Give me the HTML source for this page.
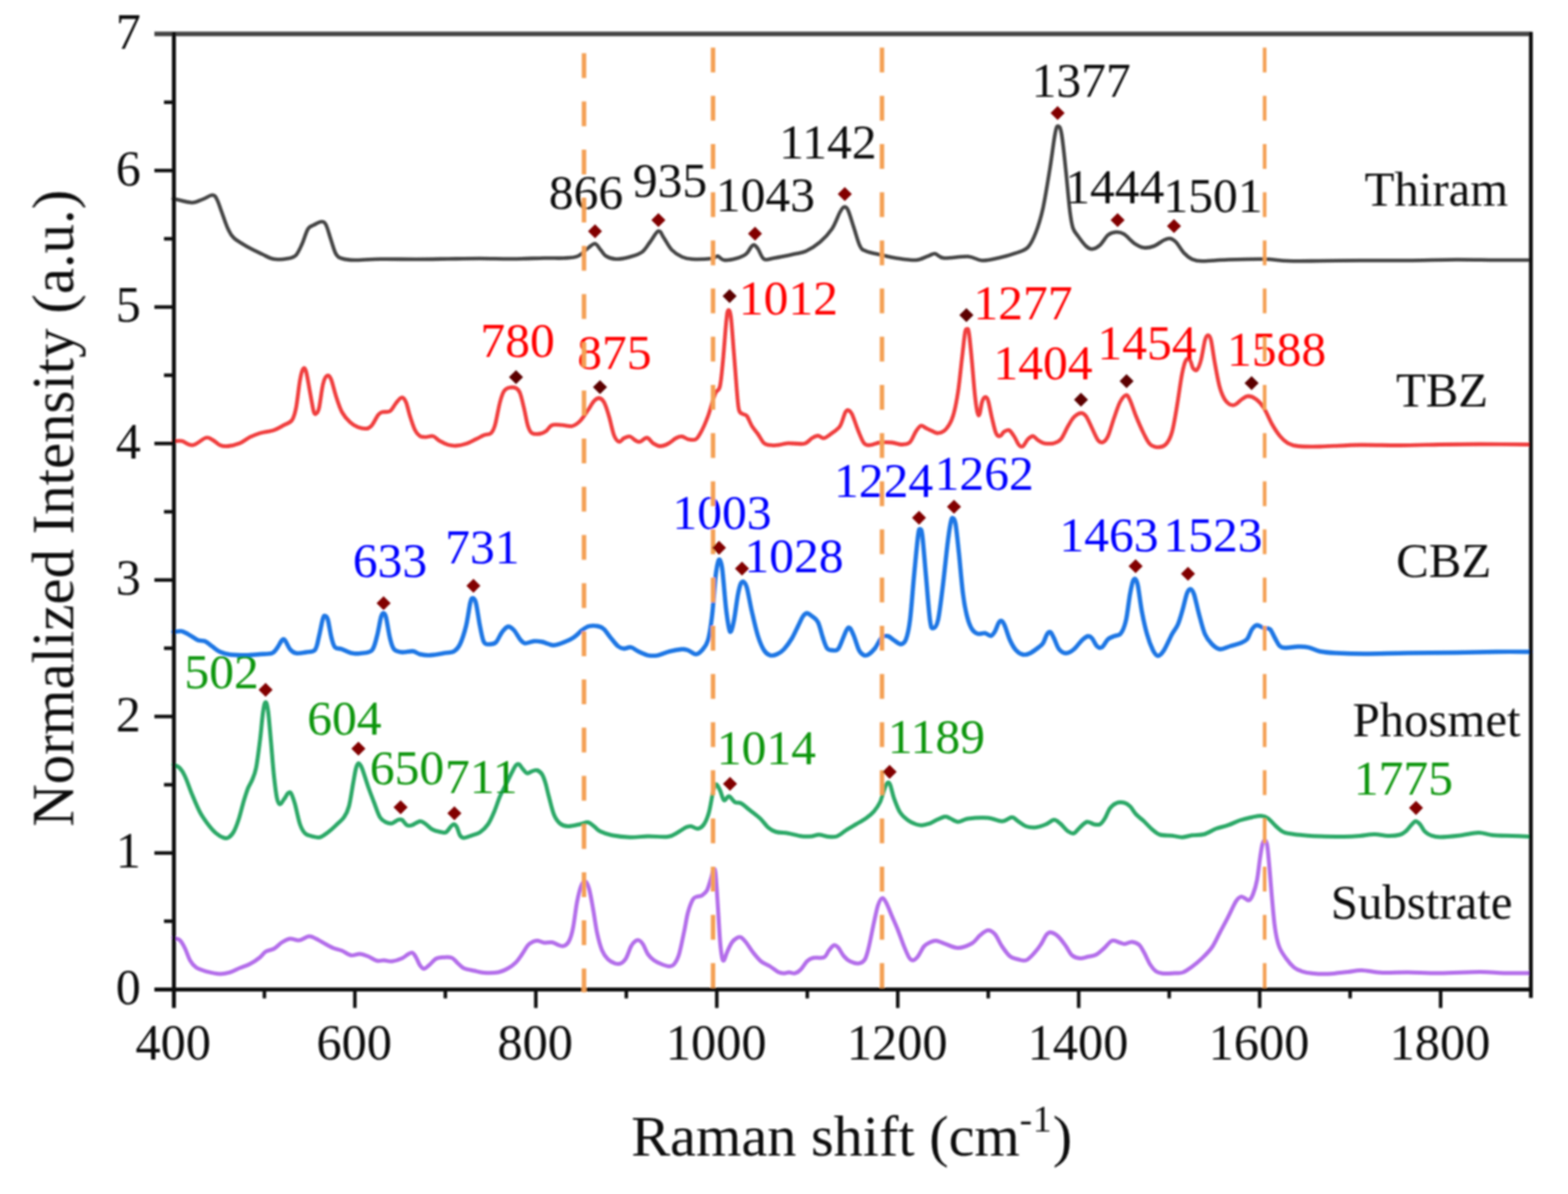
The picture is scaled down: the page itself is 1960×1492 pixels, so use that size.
<!DOCTYPE html>
<html lang="en"><head><meta charset="utf-8"><title>Raman spectra</title>
<style>
html,body{margin:0;padding:0;background:#fff;}
svg{display:block;}
text{font-family:"Liberation Serif",serif;}
</style></head>
<body>
<svg width="1960" height="1492" viewBox="0 0 1960 1492">
<rect width="1960" height="1492" fill="#ffffff"/>
<defs><filter id="soft" x="0" y="0" width="1960" height="1492" filterUnits="userSpaceOnUse"><feGaussianBlur stdDeviation="0.9"/></filter></defs>
<g filter="url(#soft)">
<g fill="none" stroke-linejoin="round" stroke-linecap="round">
<path d="M216.8,248.5C217.1,248.5 214.9,248.0 218.8,248.8C222.6,249.5 234.2,253.2 240.0,253.2C245.8,253.2 249.5,250.3 253.8,248.8C258.0,247.2 262.6,243.8 265.5,243.8C268.4,243.8 269.0,245.0 271.0,248.8C273.0,252.5 275.2,259.8 277.5,266.0C279.8,272.2 282.5,280.8 285.0,286.0C287.5,291.2 288.3,293.7 292.5,297.5C296.7,301.3 304.2,305.4 310.0,308.8C315.8,312.1 322.1,315.0 327.5,317.5C332.9,320.0 337.1,322.8 342.5,323.8C347.9,324.7 355.4,323.8 360.0,323.0C364.6,322.2 367.1,321.8 370.0,318.8C372.9,315.8 375.0,310.5 377.5,305.0C380.0,299.5 382.5,290.0 385.0,286.0C387.5,282.0 389.7,282.5 392.5,281.0C395.3,279.5 399.5,277.0 402.0,277.0C404.5,277.0 405.5,277.2 407.5,281.0C409.5,284.8 411.7,293.9 413.8,300.0C415.8,306.1 417.7,313.7 420.0,317.5C422.3,321.3 423.8,321.8 427.5,323.0C431.2,324.2 434.6,324.9 442.5,325.0C450.4,325.1 462.1,323.9 475.0,323.8C487.9,323.6 505.8,324.0 520.0,324.0C534.2,324.0 546.7,323.7 560.0,323.5C573.3,323.3 586.7,323.0 600.0,323.0C613.3,323.0 626.7,323.6 640.0,323.5C653.3,323.4 669.2,322.7 680.0,322.5C690.8,322.3 697.9,322.9 705.0,322.5C712.1,322.1 717.5,322.1 722.5,320.0C727.5,317.9 731.5,312.6 735.0,310.0C738.5,307.4 741.1,304.1 743.8,304.5C746.4,304.9 748.7,309.9 751.0,312.5C753.3,315.1 754.3,318.1 757.5,320.0C760.7,321.9 765.0,323.6 770.0,323.8C775.0,323.9 782.1,322.5 787.5,321.0C792.9,319.5 798.3,318.1 802.5,315.0C806.7,311.9 809.1,306.9 812.5,302.5C815.9,298.1 820.1,289.6 823.0,288.8C825.9,287.9 827.2,293.5 830.0,297.5C832.8,301.5 836.2,308.6 840.0,312.5C843.8,316.4 848.3,319.1 852.5,321.0C856.7,322.9 858.8,323.4 865.0,323.8C871.2,324.1 884.7,323.6 890.0,323.0C895.3,322.4 894.5,319.7 897.0,320.0C899.5,320.3 901.2,324.5 905.0,325.0C908.8,325.5 915.4,324.2 920.0,323.0C924.6,321.8 929.4,319.9 932.5,317.5C935.6,315.1 937.1,310.7 938.8,308.8C940.4,306.8 941.0,305.6 942.5,306.0C944.0,306.4 945.4,308.0 947.5,311.0C949.6,314.0 951.7,321.8 955.0,323.8C958.3,325.7 961.2,323.5 967.5,322.5C973.8,321.5 985.8,319.0 992.5,317.5C999.2,316.0 1002.1,316.2 1007.5,313.8C1012.9,311.2 1019.6,307.1 1025.0,302.5C1030.4,297.9 1035.8,292.2 1040.0,286.0C1044.2,279.8 1047.5,269.5 1050.0,265.0C1052.5,260.5 1053.3,259.2 1055.0,258.8C1056.7,258.3 1057.9,258.1 1060.0,262.5C1062.1,266.9 1065.0,277.5 1067.5,285.0C1070.0,292.5 1072.5,302.7 1075.0,307.5C1077.5,312.3 1077.9,311.9 1082.5,313.8C1087.1,315.6 1096.2,317.3 1102.5,318.8C1108.8,320.2 1112.9,321.5 1120.0,322.5C1127.1,323.5 1138.3,325.4 1145.0,325.0C1151.7,324.6 1156.0,321.3 1160.0,320.0C1164.0,318.7 1165.4,316.6 1168.8,317.0C1172.1,317.4 1173.1,321.9 1180.0,322.5C1186.9,323.1 1202.1,320.0 1210.0,320.5C1217.9,321.0 1221.2,325.2 1227.5,325.5C1233.8,325.8 1240.4,324.0 1247.5,322.5C1254.6,321.0 1263.8,318.5 1270.0,316.2C1276.2,314.0 1280.8,313.1 1285.0,308.8C1289.2,304.4 1291.9,298.1 1295.0,290.0C1298.1,281.9 1300.8,273.3 1303.8,260.0C1306.7,246.7 1310.0,225.4 1312.5,210.0C1315.0,194.6 1317.1,176.2 1318.8,167.5C1320.4,158.8 1321.1,157.5 1322.5,157.5C1323.9,157.5 1325.3,157.9 1327.0,167.5C1328.7,177.1 1330.8,198.8 1332.5,215.0C1334.2,231.2 1336.0,253.3 1337.5,265.0C1339.0,276.7 1339.6,280.0 1341.2,285.0C1342.9,290.0 1344.8,291.2 1347.5,295.0C1350.2,298.8 1354.6,304.8 1357.5,307.5C1360.4,310.2 1362.1,311.5 1365.0,311.2C1367.9,311.0 1371.7,309.2 1375.0,306.2C1378.3,303.3 1381.7,296.5 1385.0,293.8C1388.3,291.0 1391.7,290.2 1395.0,290.0C1398.3,289.8 1401.2,290.2 1405.0,292.5C1408.8,294.8 1413.3,300.9 1417.5,303.8C1421.7,306.6 1425.8,308.9 1430.0,309.5C1434.2,310.1 1438.3,309.1 1442.5,307.5C1446.7,305.9 1451.7,301.6 1455.0,300.0C1458.3,298.4 1460.0,297.6 1462.5,298.0C1465.0,298.4 1467.1,299.5 1470.0,302.5C1472.9,305.5 1476.7,312.7 1480.0,316.2C1483.3,319.8 1486.2,322.1 1490.0,323.8C1493.8,325.4 1495.0,326.1 1502.5,326.2C1510.0,326.4 1522.1,324.9 1535.0,324.5C1547.9,324.1 1567.5,323.5 1580.0,323.8C1592.5,324.0 1598.3,325.6 1610.0,326.0C1621.7,326.4 1635.0,326.1 1650.0,326.0C1665.0,325.9 1681.7,325.6 1700.0,325.5C1718.3,325.4 1740.0,325.7 1760.0,325.5C1780.0,325.3 1801.7,324.6 1820.0,324.5C1838.3,324.4 1854.4,324.9 1870.0,325.0C1885.6,325.1 1906.2,325.0 1913.5,325.0" stroke="#454545" stroke-width="4.6"/>
<path d="M216.8,551.0C217.1,551.0 217.0,551.2 218.8,551.2C220.5,551.3 223.8,550.4 227.5,551.2C231.2,552.1 236.2,557.0 241.2,556.2C246.2,555.5 253.3,548.0 257.5,547.0C261.7,546.0 263.3,548.5 266.2,550.0C269.2,551.5 271.9,555.0 275.0,556.2C278.1,557.5 280.8,557.9 285.0,557.5C289.2,557.1 295.4,555.6 300.0,553.8C304.6,551.9 308.3,548.3 312.5,546.2C316.7,544.2 320.0,542.7 325.0,541.2C330.0,539.8 337.5,539.2 342.5,537.5C347.5,535.8 351.2,533.3 355.0,531.2C358.8,529.2 362.5,528.5 365.0,525.0C367.5,521.5 368.3,518.3 370.0,510.0C371.7,501.7 373.5,483.1 375.0,475.0C376.5,466.9 377.5,463.1 378.8,461.2C380.0,459.4 381.0,459.0 382.5,463.8C384.0,468.5 385.9,481.7 387.5,490.0C389.1,498.3 390.8,509.2 392.0,513.8C393.2,518.2 393.9,517.6 395.0,517.0C396.1,516.4 397.3,516.2 398.8,510.0C400.2,503.8 402.1,486.8 403.8,480.0C405.4,473.2 407.1,470.5 408.8,469.5C410.4,468.5 411.9,469.5 413.8,473.8C415.6,478.0 417.7,488.1 420.0,495.0C422.3,501.9 424.6,509.6 427.5,515.0C430.4,520.4 434.2,524.4 437.5,527.5C440.8,530.6 444.0,532.4 447.5,533.8C451.0,535.1 455.8,535.9 458.8,535.5C461.7,535.1 462.7,534.0 465.0,531.2C467.3,528.5 470.4,521.5 472.5,518.8C474.6,516.0 475.0,515.8 477.5,515.0C480.0,514.2 484.6,515.6 487.5,513.8C490.4,511.9 492.6,506.6 495.0,503.8C497.4,500.9 499.9,497.0 502.0,496.8C504.1,496.5 505.8,498.6 507.5,502.5C509.2,506.4 510.6,514.2 512.5,520.0C514.4,525.8 516.7,533.3 518.8,537.5C520.8,541.7 522.7,543.5 525.0,545.0C527.3,546.5 529.8,546.2 532.5,546.2C535.2,546.2 538.3,544.2 541.2,545.0C544.2,545.8 546.9,549.5 550.0,551.2C553.1,553.0 556.7,554.8 560.0,555.8C563.3,556.7 566.2,557.2 570.0,557.0C573.8,556.8 578.3,555.9 582.5,554.5C586.7,553.1 591.2,550.5 595.0,548.8C598.8,547.0 601.9,545.0 605.0,543.8C608.1,542.5 611.5,543.3 613.8,541.2C616.0,539.2 616.9,537.7 618.8,531.2C620.6,524.8 623.1,509.6 625.0,502.5C626.9,495.4 628.1,491.8 630.0,488.8C631.9,485.8 633.8,485.1 636.2,484.5C638.8,483.9 642.7,483.9 645.0,485.0C647.3,486.1 648.3,487.1 650.0,491.2C651.7,495.4 653.3,503.1 655.0,510.0C656.7,516.9 658.3,527.3 660.0,532.5C661.7,537.7 662.5,539.7 665.0,541.2C667.5,542.8 672.1,542.4 675.0,542.0C677.9,541.6 680.0,540.5 682.5,538.8C685.0,537.0 686.7,532.5 690.0,531.2C693.3,530.0 698.3,531.0 702.5,531.2C706.7,531.5 711.2,533.3 715.0,532.5C718.8,531.7 721.7,529.6 725.0,526.2C728.3,522.9 732.1,516.7 735.0,512.5C737.9,508.3 740.2,503.8 742.5,501.2C744.8,498.8 746.7,497.3 748.8,497.5C750.8,497.7 752.9,498.8 755.0,502.5C757.1,506.2 759.2,513.1 761.2,520.0C763.3,526.9 765.4,538.4 767.5,543.8C769.6,549.1 771.7,551.4 773.8,552.0C775.8,552.6 777.7,548.6 780.0,547.5C782.3,546.4 785.2,545.1 787.5,545.5C789.8,545.9 791.7,548.9 793.8,550.0C795.8,551.1 797.5,552.5 800.0,552.0C802.5,551.5 806.0,546.7 808.8,547.0C811.5,547.3 813.5,552.0 816.2,553.8C819.0,555.5 821.9,557.4 825.0,557.5C828.1,557.6 831.7,556.2 835.0,554.5C838.3,552.8 842.1,549.0 845.0,547.5C847.9,546.0 850.0,545.3 852.5,545.5C855.0,545.7 857.1,548.2 860.0,548.8C862.9,549.3 867.1,550.6 870.0,548.8C872.9,546.9 875.0,542.3 877.5,537.5C880.0,532.7 882.7,526.2 885.0,520.0C887.3,513.8 889.6,505.0 891.2,500.0C892.9,495.0 893.5,492.9 895.0,490.0C896.5,487.1 898.5,489.2 900.0,482.5C901.5,475.8 902.4,463.8 903.8,450.0C905.1,436.2 906.9,410.4 908.0,400.0C909.1,389.6 909.5,387.9 910.5,387.5C911.5,387.1 912.6,388.3 913.8,397.5C914.9,406.7 916.2,427.1 917.5,442.5C918.8,457.9 920.2,478.3 921.2,490.0C922.3,501.7 922.5,507.9 923.8,512.5C925.0,517.1 927.1,516.2 928.8,517.5C930.4,518.8 931.9,517.5 933.8,520.0C935.6,522.5 937.7,528.8 940.0,532.5C942.3,536.2 945.0,539.0 947.5,542.5C950.0,546.0 952.5,551.5 955.0,553.8C957.5,556.0 959.6,555.8 962.5,556.2C965.4,556.7 968.8,556.7 972.5,556.2C976.2,555.8 979.6,554.0 985.0,553.8C990.4,553.5 1000.0,555.5 1005.0,554.5C1010.0,553.5 1012.1,549.2 1015.0,547.5C1017.9,545.8 1020.0,544.5 1022.5,544.5C1025.0,544.5 1027.1,548.0 1030.0,547.5C1032.9,547.0 1036.7,543.8 1040.0,541.2C1043.3,538.8 1047.3,536.7 1050.0,532.5C1052.7,528.3 1054.6,519.6 1056.2,516.2C1057.9,512.9 1058.5,512.3 1060.0,512.5C1061.5,512.7 1062.9,513.3 1065.0,517.5C1067.1,521.7 1070.0,531.5 1072.5,537.5C1075.0,543.5 1077.5,550.6 1080.0,553.8C1082.5,556.9 1084.2,556.4 1087.5,556.2C1090.8,556.1 1095.4,553.5 1100.0,553.0C1104.6,552.5 1110.4,552.6 1115.0,553.0C1119.6,553.4 1123.8,555.6 1127.5,555.5C1131.2,555.4 1134.6,555.3 1137.5,552.5C1140.4,549.7 1142.7,542.2 1145.0,538.8C1147.3,535.3 1149.2,532.6 1151.2,532.0C1153.3,531.4 1155.2,533.9 1157.5,535.0C1159.8,536.1 1162.5,537.5 1165.0,538.5C1167.5,539.5 1169.6,541.6 1172.5,541.2C1175.4,540.9 1179.4,539.8 1182.5,536.2C1185.6,532.7 1188.8,527.7 1191.2,520.0C1193.8,512.3 1195.6,502.1 1197.5,490.0C1199.4,477.9 1201.0,459.8 1202.5,447.5C1204.0,435.2 1205.2,422.3 1206.2,416.2C1207.3,410.2 1207.9,411.2 1208.8,411.2C1209.6,411.2 1210.2,409.4 1211.2,416.2C1212.3,423.1 1213.8,439.4 1215.0,452.5C1216.2,465.6 1217.6,484.4 1218.8,495.0C1219.9,505.6 1221.0,512.5 1222.0,516.2C1223.0,520.0 1223.6,519.8 1224.5,517.5C1225.4,515.2 1226.4,506.0 1227.5,502.5C1228.6,499.0 1230.0,496.7 1231.2,496.2C1232.5,495.8 1233.5,495.6 1235.0,500.0C1236.5,504.4 1238.3,515.6 1240.0,522.5C1241.7,529.4 1243.3,537.5 1245.0,541.2C1246.7,545.0 1248.3,545.3 1250.0,545.0C1251.7,544.7 1253.1,540.8 1255.0,539.5C1256.9,538.2 1259.2,536.6 1261.2,537.5C1263.3,538.4 1265.4,541.9 1267.5,545.0C1269.6,548.1 1271.9,554.2 1273.8,556.2C1275.6,558.3 1276.9,558.8 1278.8,557.5C1280.6,556.2 1282.9,550.8 1285.0,548.8C1287.1,546.7 1289.2,544.8 1291.2,545.0C1293.3,545.2 1295.2,548.5 1297.5,550.0C1299.8,551.5 1301.7,553.1 1305.0,553.8C1308.3,554.4 1314.0,554.6 1317.5,553.8C1321.0,552.9 1323.3,552.3 1326.2,548.8C1329.2,545.2 1332.3,537.1 1335.0,532.5C1337.7,527.9 1339.8,524.0 1342.5,521.2C1345.2,518.5 1348.8,516.5 1351.2,516.2C1353.8,516.0 1355.2,516.9 1357.5,520.0C1359.8,523.1 1362.5,530.0 1365.0,535.0C1367.5,540.0 1370.2,547.1 1372.5,550.0C1374.8,552.9 1376.7,553.3 1378.8,552.5C1380.8,551.7 1382.7,550.0 1385.0,545.0C1387.3,540.0 1390.0,529.6 1392.5,522.5C1395.0,515.4 1397.5,507.3 1400.0,502.5C1402.5,497.7 1405.4,494.2 1407.5,493.8C1409.6,493.3 1410.4,495.6 1412.5,500.0C1414.6,504.4 1417.1,512.9 1420.0,520.0C1422.9,527.1 1427.1,536.7 1430.0,542.5C1432.9,548.3 1434.6,552.3 1437.5,555.0C1440.4,557.7 1444.2,558.8 1447.5,558.8C1450.8,558.8 1454.6,558.1 1457.5,555.0C1460.4,551.9 1462.7,547.9 1465.0,540.0C1467.3,532.1 1469.2,519.6 1471.2,507.5C1473.3,495.4 1475.6,477.1 1477.5,467.5C1479.4,457.9 1480.8,452.9 1482.5,450.0C1484.2,447.1 1486.0,448.3 1487.5,450.0C1489.0,451.7 1489.8,458.0 1491.2,460.0C1492.7,462.0 1494.6,463.7 1496.2,462.0C1497.9,460.3 1499.6,456.2 1501.2,450.0C1502.9,443.8 1504.8,430.2 1506.2,425.0C1507.7,419.8 1508.8,418.8 1510.0,418.8C1511.2,418.8 1512.3,419.0 1513.8,425.0C1515.2,431.0 1516.9,445.0 1518.8,455.0C1520.6,465.0 1522.7,477.3 1525.0,485.0C1527.3,492.7 1529.6,497.7 1532.5,501.2C1535.4,504.8 1539.2,506.7 1542.5,506.2C1545.8,505.8 1549.6,500.6 1552.5,498.8C1555.4,496.9 1557.1,495.0 1560.0,495.0C1562.9,495.0 1566.7,496.2 1570.0,498.8C1573.3,501.2 1576.7,504.8 1580.0,510.0C1583.3,515.2 1586.7,524.2 1590.0,530.0C1593.3,535.8 1596.7,541.0 1600.0,545.0C1603.3,549.0 1606.2,551.7 1610.0,553.8C1613.8,555.8 1615.8,556.8 1622.5,557.5C1629.2,558.2 1637.1,558.2 1650.0,558.0C1662.9,557.8 1683.3,556.2 1700.0,556.0C1716.7,555.8 1733.3,556.6 1750.0,556.5C1766.7,556.4 1783.3,555.8 1800.0,555.5C1816.7,555.2 1831.1,555.0 1850.0,555.0C1868.9,555.0 1902.9,555.4 1913.5,555.5" stroke="#f03c3c" stroke-width="4.8"/>
<path d="M216.8,789.5C217.1,789.5 217.0,789.6 218.8,789.5C220.5,789.4 224.4,788.0 227.5,788.8C230.6,789.5 234.2,791.9 237.5,793.8C240.8,795.6 244.4,798.8 247.5,800.0C250.6,801.2 253.3,800.0 256.2,801.2C259.2,802.5 261.9,805.3 265.0,807.5C268.1,809.7 271.2,812.8 275.0,814.5C278.8,816.2 282.1,817.3 287.5,818.0C292.9,818.7 301.2,818.8 307.5,818.8C313.8,818.7 319.6,817.9 325.0,817.5C330.4,817.1 336.5,817.5 340.0,816.2C343.5,815.0 344.2,812.7 346.2,810.0C348.3,807.3 350.8,801.7 352.5,800.0C354.2,798.3 354.6,798.1 356.2,800.0C357.9,801.9 360.2,808.5 362.5,811.2C364.8,814.0 366.7,815.6 370.0,816.2C373.3,816.9 378.5,815.7 382.5,815.0C386.5,814.3 391.0,815.3 393.8,812.0C396.5,808.7 397.1,801.6 398.8,795.0C400.4,788.4 402.4,776.7 403.8,772.5C405.1,768.3 406.0,769.6 407.0,770.0C408.0,770.4 408.8,770.4 410.0,775.0C411.2,779.6 413.0,791.9 414.5,797.5C416.0,803.1 416.6,806.5 418.8,808.8C420.9,811.0 424.0,810.0 427.5,811.2C431.0,812.5 435.8,815.4 440.0,816.2C444.2,817.1 448.3,816.9 452.5,816.2C456.7,815.6 461.9,816.0 465.0,812.5C468.1,809.0 469.4,801.9 471.2,795.0C473.1,788.1 474.9,776.0 476.2,771.2C477.6,766.5 478.2,766.2 479.2,766.2C480.3,766.2 481.1,766.0 482.5,771.2C483.9,776.5 485.8,790.8 487.5,797.5C489.2,804.2 490.0,808.3 492.5,811.2C495.0,814.2 498.5,814.6 502.5,815.0C506.5,815.4 512.5,813.3 516.2,813.8C520.0,814.2 521.5,816.7 525.0,817.5C528.5,818.3 532.5,819.0 537.5,818.8C542.5,818.5 550.0,817.1 555.0,816.2C560.0,815.4 564.2,815.6 567.5,813.8C570.8,811.9 572.5,810.2 575.0,805.0C577.5,799.8 580.3,791.2 582.5,782.5C584.7,773.8 586.5,758.3 588.0,752.5C589.5,746.7 590.1,747.3 591.2,747.5C592.4,747.7 593.5,747.9 595.0,753.8C596.5,759.6 598.3,774.4 600.0,782.5C601.7,790.6 602.9,798.8 605.0,802.5C607.1,806.2 610.0,805.0 612.5,805.0C615.0,805.0 617.5,805.0 620.0,802.5C622.5,800.0 625.0,793.2 627.5,790.0C630.0,786.8 632.5,783.4 635.0,783.0C637.5,782.6 640.0,784.9 642.5,787.5C645.0,790.1 647.7,796.0 650.0,798.8C652.3,801.5 653.3,803.3 656.2,803.8C659.2,804.2 664.0,801.5 667.5,801.2C671.0,801.0 674.6,801.5 677.5,802.0C680.4,802.5 682.5,803.8 685.0,804.5C687.5,805.2 689.2,806.6 692.5,806.2C695.8,805.9 700.8,804.2 705.0,802.5C709.2,800.8 713.8,798.8 717.5,796.2C721.2,793.8 724.4,789.8 727.5,787.5C730.6,785.2 732.9,783.3 736.2,782.5C739.6,781.7 744.4,781.9 747.5,782.5C750.6,783.1 752.3,783.8 755.0,786.2C757.7,788.8 760.8,794.0 763.8,797.5C766.7,801.0 769.8,805.3 772.5,807.5C775.2,809.7 777.3,810.3 780.0,810.5C782.7,810.7 785.8,808.2 788.8,808.8C791.7,809.3 794.0,812.1 797.5,813.8C801.0,815.4 805.8,817.9 810.0,818.8C814.2,819.6 817.9,819.6 822.5,818.8C827.1,817.9 832.5,815.0 837.5,813.8C842.5,812.5 848.8,811.5 852.5,811.2C856.2,811.0 857.1,811.5 860.0,812.5C862.9,813.5 867.1,817.5 870.0,817.5C872.9,817.5 875.0,815.4 877.5,812.5C880.0,809.6 882.9,807.1 885.0,800.0C887.1,792.9 888.4,783.3 890.0,770.0C891.6,756.7 893.2,731.2 894.5,720.0C895.8,708.8 896.6,705.8 897.5,702.5C898.4,699.2 899.1,698.3 900.0,700.0C900.9,701.7 901.8,702.5 903.0,712.5C904.2,722.5 906.1,747.9 907.5,760.0C908.9,772.1 910.2,780.2 911.2,785.0C912.3,789.8 912.7,790.4 913.8,788.8C914.8,787.1 916.0,782.7 917.5,775.0C919.0,767.3 921.0,750.2 922.5,742.5C924.0,734.8 925.0,731.2 926.2,728.8C927.5,726.2 928.8,726.5 930.0,727.5C931.2,728.5 932.1,728.8 933.8,735.0C935.4,741.2 937.7,755.0 940.0,765.0C942.3,775.0 945.0,787.1 947.5,795.0C950.0,802.9 952.5,808.5 955.0,812.5C957.5,816.5 959.8,817.9 962.5,818.8C965.2,819.6 968.3,818.8 971.2,817.5C974.2,816.2 976.9,814.6 980.0,811.2C983.1,807.9 987.1,802.3 990.0,797.5C992.9,792.7 995.2,787.1 997.5,782.5C999.8,777.9 1001.9,772.7 1003.8,770.0C1005.6,767.3 1006.9,766.2 1008.8,766.2C1010.6,766.2 1012.7,768.1 1015.0,770.0C1017.3,771.9 1020.2,772.9 1022.5,777.5C1024.8,782.1 1026.9,792.1 1028.8,797.5C1030.6,802.9 1031.9,807.5 1033.8,810.0C1035.6,812.5 1037.7,812.3 1040.0,812.5C1042.3,812.7 1045.2,813.8 1047.5,811.2C1049.8,808.8 1051.9,801.7 1053.8,797.5C1055.6,793.3 1057.3,788.3 1058.8,786.2C1060.2,784.2 1061.0,783.5 1062.5,785.0C1064.0,786.5 1065.6,790.4 1067.5,795.0C1069.4,799.6 1071.7,808.5 1073.8,812.5C1075.8,816.5 1077.9,817.9 1080.0,818.8C1082.1,819.6 1084.0,819.0 1086.2,817.5C1088.5,816.0 1091.0,813.5 1093.8,810.0C1096.5,806.5 1099.8,798.8 1102.5,796.2C1105.2,793.8 1107.5,794.4 1110.0,795.0C1112.5,795.6 1114.8,798.3 1117.5,800.0C1120.2,801.7 1123.8,805.2 1126.2,805.0C1128.8,804.8 1130.6,803.8 1132.5,798.8C1134.4,793.8 1135.8,788.1 1137.5,775.0C1139.2,761.9 1140.8,737.5 1142.5,720.0C1144.2,702.5 1146.2,679.8 1147.5,670.0C1148.8,660.2 1149.1,661.2 1150.0,661.2C1150.9,661.2 1151.8,660.2 1153.0,670.0C1154.2,679.8 1155.9,702.5 1157.5,720.0C1159.1,737.5 1161.0,764.2 1162.5,775.0C1164.0,785.8 1164.6,785.0 1166.2,785.0C1167.9,785.0 1170.4,784.2 1172.5,775.0C1174.6,765.8 1176.7,746.7 1178.8,730.0C1180.8,713.3 1183.3,688.1 1185.0,675.0C1186.7,661.9 1187.7,655.8 1188.8,651.2C1189.8,646.7 1190.3,646.9 1191.2,647.5C1192.2,648.1 1193.2,647.5 1194.5,655.0C1195.8,662.5 1197.2,677.9 1198.8,692.5C1200.3,707.1 1202.1,729.6 1203.8,742.5C1205.4,755.4 1206.9,762.7 1208.8,770.0C1210.6,777.3 1212.7,782.6 1215.0,786.2C1217.3,789.9 1219.8,791.2 1222.5,792.0C1225.2,792.8 1228.5,790.8 1231.2,791.2C1234.0,791.7 1236.7,794.9 1238.8,794.5C1240.8,794.1 1242.1,791.6 1243.8,788.8C1245.4,785.9 1247.3,779.6 1248.8,777.5C1250.2,775.4 1251.2,775.4 1252.5,776.2C1253.8,777.1 1254.6,778.5 1256.2,782.5C1257.9,786.5 1260.2,795.0 1262.5,800.0C1264.8,805.0 1267.3,809.5 1270.0,812.5C1272.7,815.5 1275.8,817.4 1278.8,818.0C1281.7,818.6 1284.4,817.7 1287.5,816.2C1290.6,814.8 1294.8,811.6 1297.5,809.5C1300.2,807.4 1301.9,806.6 1303.8,803.8C1305.6,800.9 1307.2,794.8 1308.8,792.5C1310.3,790.2 1311.5,789.2 1313.0,790.0C1314.5,790.8 1315.7,794.0 1317.5,797.5C1319.3,801.0 1321.2,808.1 1323.8,811.2C1326.2,814.4 1329.4,816.2 1332.5,816.2C1335.6,816.2 1339.2,814.0 1342.5,811.2C1345.8,808.5 1349.6,802.7 1352.5,800.0C1355.4,797.3 1357.9,795.4 1360.0,795.0C1362.1,794.6 1363.1,795.4 1365.0,797.5C1366.9,799.6 1369.2,805.6 1371.2,807.5C1373.3,809.4 1375.2,810.2 1377.5,808.8C1379.8,807.3 1382.5,801.0 1385.0,798.8C1387.5,796.5 1389.8,796.2 1392.5,795.0C1395.2,793.8 1398.8,794.6 1401.2,791.2C1403.8,787.9 1405.6,783.1 1407.5,775.0C1409.4,766.9 1411.0,750.6 1412.5,742.5C1414.0,734.4 1415.1,729.4 1416.2,726.2C1417.4,723.1 1418.5,722.7 1419.5,723.8C1420.5,724.8 1421.2,725.6 1422.5,732.5C1423.8,739.4 1425.6,755.0 1427.5,765.0C1429.4,775.0 1431.5,784.6 1433.8,792.5C1436.0,800.4 1439.0,808.0 1441.2,812.5C1443.5,817.0 1445.2,819.5 1447.5,819.5C1449.8,819.5 1452.1,817.0 1455.0,812.5C1457.9,808.0 1462.1,797.9 1465.0,792.5C1467.9,787.1 1470.2,785.4 1472.5,780.0C1474.8,774.6 1476.9,766.5 1478.8,760.0C1480.6,753.5 1482.2,745.2 1483.8,741.2C1485.3,737.3 1486.5,736.0 1488.0,736.2C1489.5,736.5 1490.7,737.3 1492.5,742.5C1494.3,747.7 1496.5,759.2 1498.8,767.5C1501.0,775.8 1503.5,786.2 1506.2,792.5C1509.0,798.8 1511.9,801.9 1515.0,805.0C1518.1,808.1 1521.2,810.8 1525.0,811.2C1528.8,811.7 1533.3,808.8 1537.5,807.5C1541.7,806.2 1546.5,805.2 1550.0,803.8C1553.5,802.3 1556.2,801.7 1558.8,798.8C1561.2,795.8 1562.9,789.2 1565.0,786.2C1567.1,783.3 1568.8,781.5 1571.2,781.2C1573.8,781.0 1577.3,784.2 1580.0,785.0C1582.7,785.8 1585.2,784.2 1587.5,786.2C1589.8,788.3 1591.7,794.0 1593.8,797.5C1595.8,801.0 1597.7,805.5 1600.0,807.5C1602.3,809.5 1603.8,809.4 1607.5,809.5C1611.2,809.6 1617.9,808.1 1622.5,808.0C1627.1,807.9 1630.4,807.8 1635.0,808.8C1639.6,809.8 1644.2,812.8 1650.0,814.0C1655.8,815.2 1660.7,815.5 1670.0,816.0C1679.3,816.5 1691.0,817.0 1706.0,817.0C1721.0,817.0 1741.0,816.2 1760.0,816.0C1779.0,815.8 1801.7,815.8 1820.0,815.5C1838.3,815.2 1854.4,814.7 1870.0,814.5C1885.6,814.3 1906.2,814.5 1913.5,814.5" stroke="#1f76e4" stroke-width="5.4"/>
<path d="M216.8,955.5C217.1,955.6 217.4,955.5 218.8,956.2C220.1,957.0 222.9,957.7 225.0,960.0C227.1,962.3 228.8,964.6 231.2,970.0C233.8,975.4 236.9,985.0 240.0,992.5C243.1,1000.0 246.7,1008.8 250.0,1015.0C253.3,1021.2 256.7,1025.6 260.0,1030.0C263.3,1034.4 266.7,1038.4 270.0,1041.2C273.3,1044.1 277.3,1046.2 280.0,1047.0C282.7,1047.8 284.2,1047.6 286.2,1046.2C288.3,1044.9 290.4,1042.7 292.5,1038.8C294.6,1034.8 296.7,1029.0 298.8,1022.5C300.8,1016.0 303.1,1006.2 305.0,1000.0C306.9,993.8 308.3,989.2 310.0,985.0C311.7,980.8 313.3,979.2 315.0,975.0C316.7,970.8 318.3,968.3 320.0,960.0C321.7,951.7 323.5,936.7 325.0,925.0C326.5,913.3 327.6,897.9 328.8,890.0C329.9,882.1 330.7,877.9 331.8,877.5C332.8,877.1 333.8,879.2 335.0,887.5C336.2,895.8 337.5,913.8 338.8,927.5C340.0,941.2 341.2,958.3 342.5,970.0C343.8,981.7 345.0,991.7 346.2,997.5C347.5,1003.3 348.5,1004.8 350.0,1005.0C351.5,1005.2 353.3,1001.0 355.0,998.8C356.7,996.5 358.5,992.5 360.0,991.2C361.5,990.0 362.3,989.0 363.8,991.2C365.2,993.5 366.9,998.5 368.8,1005.0C370.6,1011.5 372.9,1024.0 375.0,1030.0C377.1,1036.0 378.8,1038.8 381.2,1041.2C383.8,1043.8 386.9,1044.2 390.0,1045.0C393.1,1045.8 396.7,1047.1 400.0,1046.2C403.3,1045.4 406.7,1042.5 410.0,1040.0C413.3,1037.5 416.7,1034.4 420.0,1031.2C423.3,1028.1 427.3,1025.2 430.0,1021.2C432.7,1017.3 434.4,1014.4 436.2,1007.5C438.1,1000.6 439.8,987.9 441.2,980.0C442.7,972.1 443.8,964.4 445.0,960.0C446.2,955.6 447.0,953.8 448.2,953.8C449.5,953.8 450.5,955.2 452.5,960.0C454.5,964.8 457.5,975.4 460.0,982.5C462.5,989.6 465.0,996.0 467.5,1002.5C470.0,1009.0 472.5,1017.1 475.0,1021.2C477.5,1025.4 480.0,1026.2 482.5,1027.5C485.0,1028.8 487.5,1029.2 490.0,1028.8C492.5,1028.2 495.4,1025.2 497.5,1024.5C499.6,1023.8 500.6,1023.4 502.5,1024.5C504.4,1025.6 506.7,1030.1 508.8,1031.2C510.8,1032.4 512.3,1032.1 515.0,1031.2C517.7,1030.4 522.1,1026.5 525.0,1026.2C527.9,1026.0 530.0,1028.3 532.5,1030.0C535.0,1031.7 537.1,1034.7 540.0,1036.2C542.9,1037.8 547.1,1038.9 550.0,1039.5C552.9,1040.1 555.2,1041.2 557.5,1040.0C559.8,1038.8 562.1,1034.2 563.8,1032.5C565.4,1030.8 566.2,1029.8 567.5,1030.0C568.8,1030.2 570.0,1031.5 571.2,1033.8C572.5,1036.0 573.5,1041.5 575.0,1043.8C576.5,1046.0 577.5,1047.0 580.0,1047.0C582.5,1047.0 586.7,1044.9 590.0,1043.8C593.3,1042.6 596.7,1042.3 600.0,1040.0C603.3,1037.7 607.1,1034.2 610.0,1030.0C612.9,1025.8 615.0,1020.8 617.5,1015.0C620.0,1009.2 622.5,1000.8 625.0,995.0C627.5,989.2 630.0,985.0 632.5,980.0C635.0,975.0 637.9,969.0 640.0,965.0C642.1,961.0 643.5,957.9 645.0,956.2C646.5,954.6 647.3,954.2 648.8,955.0C650.2,955.8 652.1,959.4 653.8,961.2C655.4,963.1 656.9,965.8 658.8,966.2C660.6,966.7 662.9,964.4 665.0,963.8C667.1,963.1 669.2,961.9 671.2,962.5C673.3,963.1 675.7,964.8 677.5,967.5C679.3,970.2 680.6,974.4 682.0,979.0C683.4,983.6 684.2,988.5 686.0,995.0C687.8,1001.5 690.2,1012.3 692.5,1018.0C694.8,1023.7 697.1,1026.6 700.0,1029.0C702.9,1031.4 705.8,1032.3 710.0,1032.5C714.2,1032.7 720.8,1030.8 725.0,1030.0C729.2,1029.2 732.1,1027.1 735.0,1027.5C737.9,1027.9 740.0,1030.6 742.5,1032.5C745.0,1034.4 746.2,1036.9 750.0,1038.8C753.8,1040.6 758.8,1042.5 765.0,1043.8C771.2,1045.0 780.0,1046.0 787.5,1046.2C795.0,1046.5 802.1,1045.1 810.0,1045.0C817.9,1044.9 828.8,1046.3 835.0,1045.5C841.2,1044.7 843.8,1042.0 847.5,1040.0C851.2,1038.0 854.8,1035.0 857.5,1033.8C860.2,1032.5 861.2,1032.2 863.8,1032.5C866.2,1032.8 869.8,1035.9 872.5,1035.5C875.2,1035.1 877.7,1033.4 880.0,1030.0C882.3,1026.6 884.4,1021.7 886.2,1015.0C888.1,1008.3 889.8,995.8 891.2,990.0C892.7,984.2 893.5,980.4 895.0,980.0C896.5,979.6 898.3,984.2 900.0,987.5C901.7,990.8 903.1,998.8 905.0,1000.0C906.9,1001.2 909.0,994.6 911.2,995.0C913.5,995.4 916.2,1001.0 918.8,1002.5C921.2,1004.0 923.1,1002.1 926.2,1003.8C929.4,1005.4 933.5,1009.4 937.5,1012.5C941.5,1015.6 946.2,1019.0 950.0,1022.5C953.8,1026.0 956.7,1030.9 960.0,1033.8C963.3,1036.6 965.8,1038.2 970.0,1039.5C974.2,1040.8 979.6,1040.3 985.0,1041.2C990.4,1042.2 997.5,1044.4 1002.5,1045.0C1007.5,1045.6 1011.5,1045.3 1015.0,1045.0C1018.5,1044.7 1020.4,1042.9 1023.8,1043.0C1027.1,1043.1 1031.2,1045.2 1035.0,1045.5C1038.8,1045.8 1042.5,1046.3 1046.2,1045.0C1050.0,1043.7 1053.5,1040.0 1057.5,1037.5C1061.5,1035.0 1065.8,1032.5 1070.0,1030.0C1074.2,1027.5 1078.8,1025.2 1082.5,1022.5C1086.2,1019.8 1089.6,1017.1 1092.5,1013.8C1095.4,1010.4 1097.9,1006.9 1100.0,1002.5C1102.1,998.1 1103.5,991.5 1105.0,987.5C1106.5,983.5 1107.5,980.0 1108.8,978.8C1110.0,977.5 1111.0,976.9 1112.5,980.0C1114.0,983.1 1115.4,991.7 1117.5,997.5C1119.6,1003.3 1122.1,1010.4 1125.0,1015.0C1127.9,1019.6 1131.7,1022.5 1135.0,1025.0C1138.3,1027.5 1142.1,1029.0 1145.0,1030.0C1147.9,1031.0 1149.6,1031.5 1152.5,1031.2C1155.4,1031.0 1159.6,1029.8 1162.5,1028.8C1165.4,1027.7 1166.9,1026.4 1170.0,1025.0C1173.1,1023.6 1178.3,1020.9 1181.2,1020.5C1184.2,1020.1 1184.8,1021.4 1187.5,1022.5C1190.2,1023.6 1193.8,1026.9 1197.5,1027.0C1201.2,1027.1 1203.8,1023.8 1210.0,1023.0C1216.2,1022.2 1227.9,1021.5 1235.0,1022.0C1242.1,1022.5 1247.5,1026.4 1252.5,1026.2C1257.5,1026.1 1261.7,1021.2 1265.0,1021.2C1268.3,1021.2 1269.6,1024.4 1272.5,1026.2C1275.4,1028.1 1278.8,1031.2 1282.5,1032.5C1286.2,1033.8 1290.8,1034.2 1295.0,1033.8C1299.2,1033.3 1303.8,1031.5 1307.5,1030.0C1311.2,1028.5 1314.6,1024.7 1317.5,1024.5C1320.4,1024.3 1322.1,1026.4 1325.0,1028.8C1327.9,1031.1 1332.1,1036.7 1335.0,1038.8C1337.9,1040.8 1340.0,1042.1 1342.5,1041.2C1345.0,1040.4 1347.3,1036.1 1350.0,1033.8C1352.7,1031.4 1355.8,1027.6 1358.8,1027.0C1361.7,1026.4 1364.8,1029.5 1367.5,1030.0C1370.2,1030.5 1372.7,1031.2 1375.0,1030.0C1377.3,1028.8 1379.2,1025.8 1381.2,1022.5C1383.3,1019.2 1385.2,1013.1 1387.5,1010.0C1389.8,1006.9 1392.1,1004.9 1395.0,1003.8C1397.9,1002.6 1402.1,1002.4 1405.0,1003.0C1407.9,1003.6 1410.0,1005.1 1412.5,1007.5C1415.0,1009.9 1417.1,1014.4 1420.0,1017.5C1422.9,1020.6 1426.7,1023.1 1430.0,1026.2C1433.3,1029.4 1436.7,1033.5 1440.0,1036.2C1443.3,1039.0 1445.8,1041.7 1450.0,1043.0C1454.2,1044.3 1460.4,1043.7 1465.0,1044.2C1469.6,1044.8 1473.3,1046.3 1477.5,1046.2C1481.7,1046.2 1485.4,1044.4 1490.0,1043.8C1494.6,1043.1 1500.0,1043.9 1505.0,1042.5C1510.0,1041.1 1515.0,1037.4 1520.0,1035.5C1525.0,1033.6 1530.0,1033.0 1535.0,1031.2C1540.0,1029.5 1545.0,1026.7 1550.0,1025.0C1555.0,1023.3 1560.6,1022.2 1565.0,1021.2C1569.4,1020.3 1572.9,1019.3 1576.2,1019.5C1579.6,1019.7 1581.9,1020.3 1585.0,1022.5C1588.1,1024.7 1591.7,1029.6 1595.0,1032.5C1598.3,1035.4 1601.2,1038.3 1605.0,1040.0C1608.8,1041.7 1612.5,1041.8 1617.5,1042.5C1622.5,1043.2 1629.6,1043.8 1635.0,1044.2C1640.4,1044.7 1642.5,1044.8 1650.0,1045.0C1657.5,1045.2 1671.7,1045.6 1680.0,1045.5C1688.3,1045.4 1693.7,1045.0 1700.0,1044.5C1706.3,1044.0 1712.2,1042.5 1718.0,1042.5C1723.8,1042.5 1729.7,1044.4 1735.0,1044.5C1740.3,1044.6 1746.2,1044.1 1750.0,1043.0C1753.8,1041.9 1755.7,1040.0 1758.0,1038.0C1760.3,1036.0 1762.1,1033.0 1764.0,1031.0C1765.9,1029.0 1767.7,1026.4 1769.5,1026.2C1771.3,1026.0 1773.1,1027.9 1775.0,1030.0C1776.9,1032.1 1778.7,1036.7 1781.0,1039.0C1783.3,1041.3 1785.8,1042.8 1789.0,1044.0C1792.2,1045.2 1794.0,1046.0 1800.0,1046.0C1806.0,1046.0 1817.0,1044.9 1825.0,1044.0C1833.0,1043.1 1841.3,1040.6 1848.0,1040.5C1854.7,1040.4 1858.0,1042.8 1865.0,1043.5C1872.0,1044.2 1881.9,1044.2 1890.0,1044.5C1898.1,1044.8 1909.6,1045.3 1913.5,1045.5" stroke="#2aa866" stroke-width="5.0"/>
<path d="M216.8,1171.5C217.1,1171.7 217.4,1171.9 218.8,1172.5C220.1,1173.1 222.9,1172.9 225.0,1175.0C227.1,1177.1 229.2,1180.8 231.2,1185.0C233.3,1189.2 235.2,1196.0 237.5,1200.0C239.8,1204.0 241.7,1206.5 245.0,1208.8C248.3,1211.0 252.5,1212.4 257.5,1213.8C262.5,1215.1 270.0,1216.8 275.0,1217.0C280.0,1217.2 283.3,1216.2 287.5,1215.0C291.7,1213.8 295.8,1211.2 300.0,1209.5C304.2,1207.8 308.3,1206.7 312.5,1204.5C316.7,1202.3 321.7,1198.9 325.0,1196.2C328.3,1193.6 329.6,1190.5 332.5,1188.8C335.4,1187.0 339.2,1187.4 342.5,1185.5C345.8,1183.6 349.2,1179.6 352.5,1177.5C355.8,1175.4 359.0,1173.4 362.5,1173.0C366.0,1172.6 369.8,1175.5 373.8,1175.0C377.7,1174.5 382.7,1170.3 386.2,1170.0C389.8,1169.7 391.5,1171.3 395.0,1173.0C398.5,1174.7 403.8,1178.0 407.5,1180.0C411.2,1182.0 414.2,1183.7 417.5,1185.0C420.8,1186.3 424.0,1186.5 427.5,1188.0C431.0,1189.5 435.0,1193.1 438.8,1193.8C442.5,1194.4 446.5,1191.8 450.0,1192.0C453.5,1192.2 456.5,1193.6 460.0,1195.0C463.5,1196.4 467.9,1199.7 471.2,1200.5C474.6,1201.3 476.9,1199.9 480.0,1200.0C483.1,1200.1 486.2,1201.7 490.0,1201.2C493.8,1200.8 499.2,1199.0 502.5,1197.5C505.8,1196.0 507.8,1193.7 510.0,1192.5C512.2,1191.3 513.8,1189.9 515.5,1190.5C517.2,1191.1 518.4,1193.6 520.0,1196.2C521.6,1198.9 523.3,1203.9 525.0,1206.2C526.7,1208.6 528.1,1210.5 530.0,1210.5C531.9,1210.5 533.8,1208.3 536.2,1206.2C538.8,1204.2 541.9,1199.7 545.0,1198.0C548.1,1196.3 551.7,1196.4 555.0,1196.2C558.3,1196.1 562.1,1195.8 565.0,1197.0C567.9,1198.2 570.0,1201.6 572.5,1203.8C575.0,1205.9 576.7,1208.5 580.0,1210.0C583.3,1211.5 588.3,1212.1 592.5,1213.0C596.7,1213.9 600.0,1215.2 605.0,1215.5C610.0,1215.8 617.5,1215.9 622.5,1215.0C627.5,1214.1 631.2,1212.1 635.0,1210.0C638.8,1207.9 642.1,1205.4 645.0,1202.5C647.9,1199.6 650.0,1196.0 652.5,1192.5C655.0,1189.0 657.5,1184.0 660.0,1181.2C662.5,1178.5 665.4,1177.2 667.5,1176.2C669.6,1175.3 670.4,1175.2 672.5,1175.5C674.6,1175.8 677.1,1177.7 680.0,1178.0C682.9,1178.3 686.9,1177.0 690.0,1177.5C693.1,1178.0 696.2,1180.5 698.8,1181.2C701.2,1182.0 702.9,1182.8 705.0,1182.0C707.1,1181.2 709.4,1179.9 711.2,1176.2C713.1,1172.6 714.6,1168.1 716.2,1160.0C717.9,1151.9 719.6,1136.2 721.2,1127.5C722.9,1118.8 724.6,1111.9 726.2,1107.5C727.9,1103.1 729.6,1100.8 731.2,1101.2C732.9,1101.7 734.6,1104.4 736.2,1110.0C737.9,1115.6 739.6,1125.8 741.2,1135.0C742.9,1144.2 744.4,1156.2 746.2,1165.0C748.1,1173.8 750.2,1181.9 752.5,1187.5C754.8,1193.1 757.3,1196.0 760.0,1198.8C762.7,1201.5 766.0,1202.9 768.8,1203.8C771.5,1204.6 774.0,1204.8 776.2,1203.8C778.5,1202.7 780.4,1201.0 782.5,1197.5C784.6,1194.0 786.9,1186.0 788.8,1182.5C790.6,1179.0 792.1,1177.5 793.8,1176.2C795.4,1175.0 797.1,1174.4 798.8,1175.0C800.4,1175.6 801.9,1177.1 803.8,1180.0C805.6,1182.9 807.7,1189.2 810.0,1192.5C812.3,1195.8 814.6,1197.9 817.5,1200.0C820.4,1202.1 824.4,1203.8 827.5,1205.0C830.6,1206.2 833.8,1207.5 836.2,1207.5C838.8,1207.5 840.4,1207.5 842.5,1205.0C844.6,1202.5 846.7,1199.2 848.8,1192.5C850.8,1185.8 853.1,1173.8 855.0,1165.0C856.9,1156.2 858.1,1146.9 860.0,1140.0C861.9,1133.1 864.4,1127.0 866.2,1123.8C868.1,1120.5 869.4,1121.3 871.2,1120.5C873.1,1119.7 875.4,1120.1 877.5,1118.8C879.6,1117.4 881.9,1116.0 883.8,1112.5C885.6,1109.0 887.4,1101.9 888.8,1097.5C890.1,1093.1 891.0,1087.1 892.0,1086.2C893.0,1085.4 893.6,1084.4 894.5,1092.5C895.4,1100.6 896.6,1121.2 897.5,1135.0C898.4,1148.8 899.2,1164.8 900.0,1175.0C900.8,1185.2 901.7,1192.1 902.5,1196.2C903.3,1200.4 904.0,1201.0 905.0,1200.0C906.0,1199.0 907.1,1193.8 908.8,1190.0C910.4,1186.2 912.9,1180.5 915.0,1177.5C917.1,1174.5 919.4,1173.0 921.2,1172.0C923.1,1171.0 924.4,1170.3 926.2,1171.2C928.1,1172.2 930.0,1174.4 932.5,1177.5C935.0,1180.6 938.1,1186.0 941.2,1190.0C944.4,1194.0 947.7,1198.3 951.2,1201.2C954.8,1204.2 959.0,1205.3 962.5,1207.5C966.0,1209.7 969.6,1213.0 972.5,1214.5C975.4,1216.0 977.7,1216.2 980.0,1216.2C982.3,1216.3 984.0,1215.0 986.2,1215.0C988.5,1215.0 991.2,1216.9 993.8,1216.2C996.2,1215.6 998.8,1213.8 1001.2,1211.2C1003.8,1208.8 1006.2,1203.6 1008.8,1201.2C1011.2,1198.9 1012.7,1197.8 1016.2,1197.0C1019.8,1196.2 1026.7,1197.8 1030.0,1196.2C1033.3,1194.7 1034.2,1190.0 1036.2,1187.5C1038.3,1185.0 1040.6,1181.9 1042.5,1181.2C1044.4,1180.6 1045.4,1181.5 1047.5,1183.8C1049.6,1186.0 1052.5,1192.1 1055.0,1195.0C1057.5,1197.9 1059.4,1199.8 1062.5,1201.2C1065.6,1202.7 1070.6,1204.2 1073.8,1203.8C1076.9,1203.3 1079.2,1202.3 1081.2,1198.8C1083.3,1195.2 1084.4,1190.2 1086.2,1182.5C1088.1,1174.8 1090.6,1161.0 1092.5,1152.5C1094.4,1144.0 1095.8,1136.2 1097.5,1131.2C1099.2,1126.2 1100.8,1123.1 1102.5,1122.5C1104.2,1121.9 1105.4,1123.8 1107.5,1127.5C1109.6,1131.2 1112.5,1139.2 1115.0,1145.0C1117.5,1150.8 1120.0,1156.2 1122.5,1162.5C1125.0,1168.8 1127.7,1176.9 1130.0,1182.5C1132.3,1188.1 1134.4,1193.3 1136.2,1196.2C1138.1,1199.2 1139.4,1200.2 1141.2,1200.0C1143.1,1199.8 1145.2,1197.9 1147.5,1195.0C1149.8,1192.1 1152.5,1185.4 1155.0,1182.5C1157.5,1179.6 1160.0,1178.7 1162.5,1177.5C1165.0,1176.3 1167.1,1175.3 1170.0,1175.5C1172.9,1175.7 1175.4,1177.2 1180.0,1178.8C1184.6,1180.2 1191.7,1184.5 1197.5,1184.5C1203.3,1184.5 1210.4,1181.4 1215.0,1178.8C1219.6,1176.1 1221.7,1171.5 1225.0,1168.8C1228.3,1166.0 1231.9,1162.7 1235.0,1162.5C1238.1,1162.3 1240.8,1164.2 1243.8,1167.5C1246.7,1170.8 1249.4,1177.9 1252.5,1182.5C1255.6,1187.1 1259.2,1192.3 1262.5,1195.0C1265.8,1197.7 1269.2,1197.9 1272.5,1198.8C1275.8,1199.6 1279.2,1201.2 1282.5,1200.0C1285.8,1198.8 1289.4,1194.6 1292.5,1191.2C1295.6,1187.9 1298.8,1183.8 1301.2,1180.0C1303.8,1176.2 1305.5,1171.2 1307.5,1168.8C1309.5,1166.2 1310.5,1164.8 1313.0,1165.0C1315.5,1165.2 1319.2,1167.1 1322.5,1170.0C1325.8,1172.9 1329.6,1178.5 1332.5,1182.5C1335.4,1186.5 1337.1,1191.2 1340.0,1193.8C1342.9,1196.2 1346.7,1197.2 1350.0,1197.5C1353.3,1197.8 1356.7,1196.2 1360.0,1195.5C1363.3,1194.8 1366.7,1194.8 1370.0,1193.0C1373.3,1191.2 1376.7,1187.9 1380.0,1185.0C1383.3,1182.1 1386.7,1176.7 1390.0,1175.5C1393.3,1174.3 1397.3,1177.3 1400.0,1178.0C1402.7,1178.7 1403.8,1179.7 1406.2,1179.5C1408.8,1179.3 1412.1,1176.8 1415.0,1177.0C1417.9,1177.2 1421.2,1178.3 1423.8,1180.5C1426.2,1182.7 1427.7,1185.9 1430.0,1190.0C1432.3,1194.1 1435.0,1201.0 1437.5,1205.0C1440.0,1209.0 1442.5,1211.9 1445.0,1213.8C1447.5,1215.6 1449.2,1215.8 1452.5,1216.2C1455.8,1216.7 1460.6,1216.5 1465.0,1216.2C1469.4,1216.0 1474.6,1216.4 1478.8,1215.0C1482.9,1213.6 1486.0,1210.9 1490.0,1208.0C1494.0,1205.1 1498.3,1201.5 1502.5,1197.5C1506.7,1193.5 1511.2,1189.2 1515.0,1183.8C1518.8,1178.3 1521.7,1171.2 1525.0,1165.0C1528.3,1158.8 1531.7,1152.7 1535.0,1146.2C1538.3,1139.8 1542.3,1130.5 1545.0,1126.2C1547.7,1122.0 1549.4,1121.1 1551.2,1120.5C1553.1,1119.9 1554.6,1121.8 1556.2,1122.5C1557.9,1123.2 1559.6,1125.8 1561.2,1125.0C1562.9,1124.2 1564.6,1121.7 1566.2,1117.5C1567.9,1113.3 1569.8,1107.5 1571.2,1100.0C1572.7,1092.5 1573.9,1080.0 1575.0,1072.5C1576.1,1065.0 1577.0,1058.8 1578.0,1055.0C1579.0,1051.2 1579.8,1050.0 1580.8,1050.0C1581.7,1050.0 1582.8,1050.4 1583.8,1055.0C1584.7,1059.6 1585.2,1066.2 1586.2,1077.5C1587.3,1088.8 1588.8,1108.8 1590.0,1122.5C1591.2,1136.2 1592.3,1150.0 1593.8,1160.0C1595.2,1170.0 1596.5,1176.2 1598.8,1182.5C1601.0,1188.8 1604.4,1193.1 1607.5,1197.5C1610.6,1201.9 1614.2,1206.0 1617.5,1208.8C1620.8,1211.5 1623.8,1212.5 1627.5,1213.8C1631.2,1215.0 1634.6,1215.7 1640.0,1216.2C1645.4,1216.8 1652.5,1217.3 1660.0,1217.0C1667.5,1216.7 1678.0,1215.2 1685.0,1214.5C1692.0,1213.8 1694.8,1212.3 1702.0,1212.5C1709.2,1212.7 1718.3,1215.1 1728.0,1215.5C1737.7,1215.9 1748.0,1214.9 1760.0,1215.0C1772.0,1215.1 1785.0,1216.1 1800.0,1216.0C1815.0,1215.9 1836.7,1214.5 1850.0,1214.5C1863.3,1214.5 1869.4,1215.8 1880.0,1216.0C1890.6,1216.2 1907.9,1216.0 1913.5,1216.0" stroke="#b36dea" stroke-width="5.0"/>
</g>
<g font-size="62" text-anchor="middle">
<text x="732.4" y="261.0" fill="#111">866</text>
<text x="837.4" y="246.0" fill="#111">935</text>
<text x="956.8" y="263.8" fill="#111">1043</text>
<text x="1034.8" y="198.2" fill="#111">1142</text>
<text x="1351.4" y="121.4" fill="#111">1377</text>
<text x="1393.5" y="253.8" fill="#111">1444</text>
<text x="1516.2" y="265.0" fill="#111">1501</text>
<text x="647.0" y="446.0" fill="#ff0000">780</text>
<text x="768.0" y="461.2" fill="#ff0000">875</text>
<text x="985.5" y="392.5" fill="#ff0000">1012</text>
<text x="1278.8" y="398.8" fill="#ff0000">1277</text>
<text x="1303.8" y="473.8" fill="#ff0000">1404</text>
<text x="1433.8" y="448.8" fill="#ff0000">1454</text>
<text x="1595.8" y="457.0" fill="#ff0000">1588</text>
<text x="487.5" y="721.2" fill="#0000ff">633</text>
<text x="603.0" y="703.8" fill="#0000ff">731</text>
<text x="902.4" y="661.2" fill="#0000ff">1003</text>
<text x="992.4" y="715.0" fill="#0000ff">1028</text>
<text x="1104.5" y="621.4" fill="#0000ff">1224</text>
<text x="1230.3" y="612.0" fill="#0000ff">1262</text>
<text x="1386.2" y="688.8" fill="#0000ff">1463</text>
<text x="1516.2" y="688.8" fill="#0000ff">1523</text>
<text x="277.0" y="860.0" fill="#0b960b">502</text>
<text x="430.6" y="917.5" fill="#0b960b">604</text>
<text x="508.8" y="980.0" fill="#0b960b">650</text>
<text x="601.6" y="991.2" fill="#0b960b">711</text>
<text x="958.0" y="955.0" fill="#0b960b">1014</text>
<text x="1170.5" y="941.0" fill="#0b960b">1189</text>
<text x="1754.3" y="992.7" fill="#0b960b">1775</text>
</g>
<g stroke="#0c0c0c" stroke-width="5.0" fill="none" stroke-linecap="butt">
<line x1="193" y1="42.3" x2="1915.3" y2="42.3" stroke="#444" stroke-width="5.8"/>
<line x1="217.4" y1="40" x2="217.4" y2="1259.5"/>
<line x1="193" y1="1236.4" x2="1915" y2="1236.4"/>
<line x1="1913.6" y1="40" x2="1913.6" y2="1247" stroke-width="4.8"/>
<line x1="193" y1="1065.9" x2="217.4" y2="1065.9" stroke-width="4.4"/>
<line x1="193" y1="895.3" x2="217.4" y2="895.3" stroke-width="4.4"/>
<line x1="193" y1="724.8" x2="217.4" y2="724.8" stroke-width="4.4"/>
<line x1="193" y1="554.2" x2="217.4" y2="554.2" stroke-width="4.4"/>
<line x1="193" y1="383.7" x2="217.4" y2="383.7" stroke-width="4.4"/>
<line x1="193" y1="213.1" x2="217.4" y2="213.1" stroke-width="4.4"/>
<line x1="205" y1="1151.1" x2="217.4" y2="1151.1" stroke-width="4.4"/>
<line x1="205" y1="980.6" x2="217.4" y2="980.6" stroke-width="4.4"/>
<line x1="205" y1="810.0" x2="217.4" y2="810.0" stroke-width="4.4"/>
<line x1="205" y1="639.5" x2="217.4" y2="639.5" stroke-width="4.4"/>
<line x1="205" y1="468.9" x2="217.4" y2="468.9" stroke-width="4.4"/>
<line x1="205" y1="298.4" x2="217.4" y2="298.4" stroke-width="4.4"/>
<line x1="205" y1="127.8" x2="217.4" y2="127.8" stroke-width="4.4"/>
<line x1="443.6" y1="1236.4" x2="443.6" y2="1259.5" stroke-width="4.4"/>
<line x1="669.8" y1="1236.4" x2="669.8" y2="1259.5" stroke-width="4.4"/>
<line x1="896.0" y1="1236.4" x2="896.0" y2="1259.5" stroke-width="4.4"/>
<line x1="1122.2" y1="1236.4" x2="1122.2" y2="1259.5" stroke-width="4.4"/>
<line x1="1348.4" y1="1236.4" x2="1348.4" y2="1259.5" stroke-width="4.4"/>
<line x1="1574.6" y1="1236.4" x2="1574.6" y2="1259.5" stroke-width="4.4"/>
<line x1="1800.8" y1="1236.4" x2="1800.8" y2="1259.5" stroke-width="4.4"/>
<line x1="330.5" y1="1236.4" x2="330.5" y2="1247.5" stroke-width="4.4"/>
<line x1="556.7" y1="1236.4" x2="556.7" y2="1247.5" stroke-width="4.4"/>
<line x1="782.9" y1="1236.4" x2="782.9" y2="1247.5" stroke-width="4.4"/>
<line x1="1009.1" y1="1236.4" x2="1009.1" y2="1247.5" stroke-width="4.4"/>
<line x1="1235.3" y1="1236.4" x2="1235.3" y2="1247.5" stroke-width="4.4"/>
<line x1="1461.5" y1="1236.4" x2="1461.5" y2="1247.5" stroke-width="4.4"/>
<line x1="1687.7" y1="1236.4" x2="1687.7" y2="1247.5" stroke-width="4.4"/>
</g>
<g stroke="#f4a055" stroke-width="5.6" stroke-dasharray="31 29.2" fill="none">
<line x1="730" y1="66.5" x2="730" y2="1240"/>
<line x1="891.3" y1="59.6" x2="891.3" y2="1234.5"/>
<line x1="1102.5" y1="59.6" x2="1102.5" y2="1234.5"/>
<line x1="1580.8" y1="59.6" x2="1580.8" y2="1234.5" stroke-width="4.6"/>
</g>
<g fill="#820000">
<path d="M743.8,280.2L752.5,289.0L743.8,297.8L735.0,289.0Z"/>
<path d="M823.0,266.2L831.8,275.0L823.0,283.8L814.2,275.0Z"/>
<path d="M943.8,283.2L952.5,292.0L943.8,300.8L935.0,292.0Z"/>
<path d="M1056.0,233.7L1064.8,242.5L1056.0,251.3L1047.2,242.5Z"/>
<path d="M1322.0,132.4L1330.8,141.2L1322.0,150.1L1313.2,141.2Z"/>
<path d="M1397.0,266.2L1405.8,275.0L1397.0,283.8L1388.2,275.0Z"/>
<path d="M1467.5,273.7L1476.3,282.5L1467.5,291.3L1458.7,282.5Z"/>
<path d="M645.0,462.4L653.8,471.2L645.0,480.1L636.2,471.2Z" fill="#5c0000"/>
<path d="M750.0,474.9L758.8,483.8L750.0,492.6L741.2,483.8Z" fill="#5c0000"/>
<path d="M912.0,361.2L920.8,370.0L912.0,378.8L903.2,370.0Z" fill="#5c0000"/>
<path d="M1208.0,384.9L1216.8,393.8L1208.0,402.6L1199.2,393.8Z" fill="#5c0000"/>
<path d="M1351.2,490.7L1360.0,499.5L1351.2,508.3L1342.5,499.5Z" fill="#5c0000"/>
<path d="M1408.2,467.4L1417.0,476.2L1408.2,485.1L1399.5,476.2Z" fill="#5c0000"/>
<path d="M1564.5,469.9L1573.3,478.8L1564.5,487.6L1555.7,478.8Z" fill="#5c0000"/>
<path d="M479.5,745.0L488.3,753.8L479.5,762.5L470.7,753.8Z"/>
<path d="M591.8,723.2L600.5,732.0L591.8,740.8L583.0,732.0Z"/>
<path d="M898.8,675.7L907.5,684.5L898.8,693.3L890.0,684.5Z"/>
<path d="M927.5,701.7L936.3,710.5L927.5,719.3L918.7,710.5Z"/>
<path d="M1148.8,638.2L1157.5,647.0L1148.8,655.8L1140.0,647.0Z"/>
<path d="M1192.5,624.5L1201.3,633.2L1192.5,642.0L1183.7,633.2Z"/>
<path d="M1419.5,698.7L1428.3,707.5L1419.5,716.3L1410.7,707.5Z"/>
<path d="M1485.0,708.2L1493.8,717.0L1485.0,725.8L1476.2,717.0Z"/>
<path d="M332.0,853.2L340.8,862.0L332.0,870.8L323.2,862.0Z"/>
<path d="M448.0,926.7L456.8,935.5L448.0,944.3L439.2,935.5Z"/>
<path d="M500.8,1000.0L509.6,1008.8L500.8,1017.5L491.9,1008.8Z"/>
<path d="M568.0,1007.5L576.8,1016.2L568.0,1025.0L559.2,1016.2Z"/>
<path d="M912.5,970.7L921.3,979.5L912.5,988.3L903.7,979.5Z"/>
<path d="M1112.0,955.7L1120.8,964.5L1112.0,973.3L1103.2,964.5Z"/>
<path d="M1770.0,1000.8L1778.8,1009.6L1770.0,1018.4L1761.2,1009.6Z"/>
</g>
<g font-size="63" fill="#111" text-anchor="middle">
<text x="216.6" y="1323.5">400</text>
<text x="442.8" y="1323.5">600</text>
<text x="669.0" y="1323.5">800</text>
<text x="895.2" y="1323.5">1000</text>
<text x="1121.4" y="1323.5">1200</text>
<text x="1347.6" y="1323.5">1400</text>
<text x="1573.8" y="1323.5">1600</text>
<text x="1800.0" y="1323.5">1800</text>
</g>
<g font-size="62.5" fill="#111" text-anchor="end">
<text x="176" y="1254.8">0</text>
<text x="176" y="1084.3">1</text>
<text x="176" y="913.7">2</text>
<text x="176" y="743.1">3</text>
<text x="176" y="572.6">4</text>
<text x="176" y="402.1">5</text>
<text x="176" y="231.5">6</text>
<text x="176" y="60.9">7</text>
</g>
<g font-size="61" fill="#111" text-anchor="middle">
<text x="1795.5" y="257.0">Thiram</text>
<text x="1802.5" y="508.0">TBZ</text>
<text x="1804.6" y="721.4">CBZ</text>
<text x="1795.7" y="920.3">Phosmet</text>
<text x="1777.0" y="1148.2">Substrate</text>
</g>
<text x="789" y="1443.8" font-size="72.9" fill="#111">Raman shift (cm<tspan font-size="47" x="1274.5" y="1414">-</tspan><tspan font-size="47" x="1291" y="1414">1</tspan><tspan x="1316" y="1443.8">)</tspan></text>
<text transform="translate(91.5,1033) rotate(-90)" font-size="73.5" fill="#111">Normalized Intensity (a.u.)</text>
</g>
</svg>
</body></html>
